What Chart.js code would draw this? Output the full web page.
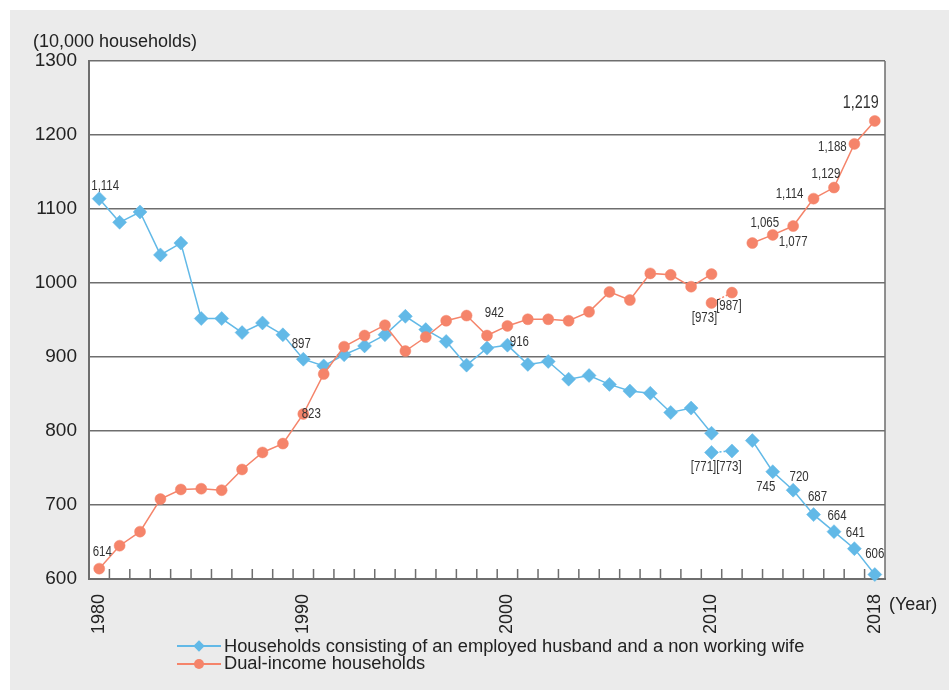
<!DOCTYPE html>
<html>
<head>
<meta charset="utf-8">
<script src="https://cdn.jsdelivr.net/npm/chart.js@4.4.1/dist/chart.umd.min.js"></script>
<style>
  body { margin: 0; width: 949px; height: 691px; position: relative; overflow: hidden; background: #fff;
         font-family: "Liberation Sans", Arial, sans-serif; color: #222; }
  #bg { position: absolute; left: 10px; top: 10px; width: 939px; height: 680px; background: #ebebeb; }
  #wrap { position: absolute; left: 0; top: 0; width: 949px; height: 691px; }
  .unit { position: absolute; left: 33px; top: 31px; font-size: 18px; }
  .year { position: absolute; left: 889px; top: 594px; font-size: 18px; }
  #legend { position: absolute; left: 177px; top: 637px; font-size: 18.3px; }
  .item { display: flex; align-items: center; height: 17.5px; }
  .key { position: relative; width: 44px; height: 11px; margin-right: 3px; }
  .key .ln { position: absolute; left: 0; right: 0; top: 5px; height: 2px; }
  .key .mk { position: absolute; }
  .dia { left: 18px; top: 1.5px; width: 8px; height: 8px; transform: rotate(45deg); }
  .dot { left: 17px; top: 1px; width: 10px; height: 10px; border-radius: 50%; }
</style>
</head>
<body>
<div id="bg"></div>
<div id="wrap"><canvas id="households-chart"></canvas></div>
<div class="unit">(10,000 households)</div>
<div class="year">(Year)</div>
<div id="legend">
  <div class="item"><div class="key"><div class="ln" style="background:#62b9e7"></div><div class="mk dia" style="background:#62b9e7"></div></div>Households consisting of an employed husband and a non working wife</div>
  <div class="item"><div class="key"><div class="ln" style="background:#f5846a"></div><div class="mk dot" style="background:#f5846a"></div></div>Dual-income households</div>
</div>
<script>
const colors = { blue: "#62b9e7", orange: "#f5846a", grid: "#6e6e6e", text: "#222" };

let years = [
  "1980", "1981", "1982", "1983", "1984", "1985", "1986", "1987", "1988", "1989",
  "1990", "1991", "1992", "1993", "1994", "1995", "1996", "1997", "1998", "1999",
  "2000", "2001", "2002", "2003", "2004", "2005", "2006", "2007", "2008", "2009",
  "2010", "2011", "2012", "2013", "2014", "2015", "2016", "2017", "2018",
];
let shownYears = ["1980", "1990", "2000", "2010", "2018"];

// 10,000 households; 2011 left out of the main series
let singleEarner = [
  1114, 1082, 1096, 1038, 1054, 952, 952, 933, 946, 930,
  897, 888, 903, 915, 930, 955, 937, 921, 889, 912,
  916, 890, 894, 870, 875, 863, 854, 851, 825, 831,
  797, null, 787, 745, 720, 687, 664, 641, 606,
];
let dualIncome = [
  614, 645, 664, 708, 721, 722, 720, 748, 771, 783,
  823, 877, 914, 929, 943, 908, 927, 949, 956, 929,
  942, 951, 951, 949, 961, 988, 977, 1013, 1011, 995,
  1012, null, 1054, 1065, 1077, 1114, 1129, 1188, 1219,
];
// bracketed values
let altYears = ["2010", "2011"];
let singleEarnerAlt = [771, 773];
let dualIncomeAlt = [973, 987];

// label placement (offset from the point)
let singleEarnerLabels = [
  { i: 0, dx: 6, dy: -12 }, { i: 10, dx: -2, dy: -15 }, { i: 20, dx: 12, dy: -3 },
  { i: 33, dx: -7, dy: 15 }, { i: 34, dx: 6, dy: -13 }, { i: 35, dx: 4, dy: -17 },
  { i: 36, dx: 3, dy: -15 }, { i: 37, dx: 1, dy: -16 }, { i: 38, dx: 0, dy: -20 },
];
let singleEarnerAltLabels = [{ i: 0, dx: -8, dy: 15 }, { i: 1, dx: -3, dy: 16 }];
let dualIncomeLabels = [
  { i: 0, dx: 3, dy: -16 }, { i: 10, dx: 8, dy: 0 }, { i: 20, dx: -13, dy: -13 },
  { i: 33, dx: -8, dy: -12 }, { i: 34, dx: 0, dy: 16 }, { i: 35, dx: -24, dy: -4 },
  { i: 36, dx: -8, dy: -13 }, { i: 37, dx: -22, dy: 3 }, { i: 38, dx: -14, dy: -18, size: 17.5 },
];
let dualIncomeAltLabels = [{ i: 0, dx: -7, dy: 15 }, { i: 1, dx: -3, dy: 14 }];

function pairs(xs, ys) {
  return xs.map((x, k) => ({ x: x, y: ys[k] }));
}

function lineSet(label, data, color, style, radius, order, labels, bracket, dashed) {
  return {
    label: label,
    data: data,
    borderColor: color,
    backgroundColor: color,
    borderWidth: 1.5,
    borderDash: dashed ? [2, 2] : [],
    pointStyle: style,
    pointRadius: radius,
    pointHoverRadius: radius,
    pointBorderWidth: 0.5,
    tension: 0,
    spanGaps: false,
    clip: false,
    order: order,
    valueLabels: labels,
    bracket: bracket,
  };
}

const valueLabelPlugin = {
  id: "valueLabels",
  afterDatasetsDraw(chart) {
    let ctx = chart.ctx;
    chart.data.datasets.forEach((ds, di) => {
      let meta = chart.getDatasetMeta(di);
      (ds.valueLabels || []).forEach((lb) => {
        let pt = meta.data[lb.i];
        let raw = ds.data[lb.i];
        let v = typeof raw === "object" && raw !== null ? raw.y : raw;
        let txt = v.toLocaleString("en-US");
        if (ds.bracket) txt = "[" + txt + "]";
        ctx.save();
        ctx.fillStyle = "#333";
        ctx.textAlign = "center";
        ctx.textBaseline = "middle";
        ctx.font = (lb.size || 14) + 'px "Liberation Sans", Arial, sans-serif';
        // condensed lettering, as in the original
        ctx.translate(pt.x + lb.dx, pt.y + lb.dy);
        ctx.scale(0.82, 1);
        ctx.fillText(txt, 0, 0);
        ctx.restore();
      });
    });
  },
};

const framePlugin = {
  id: "frame",
  beforeDraw(chart) {
    let a = chart.chartArea;
    let ctx = chart.ctx;
    ctx.save();
    ctx.fillStyle = "#fff";
    ctx.fillRect(a.left, a.top, a.right - a.left, a.bottom - a.top);
    ctx.restore();
  },
  beforeDatasetsDraw(chart) {
    let a = chart.chartArea;
    let ctx = chart.ctx;
    let xs = chart.scales.x;
    ctx.save();
    ctx.strokeStyle = colors.grid;
    ctx.lineWidth = 1.5;
    ctx.beginPath();
    ctx.moveTo(a.right, a.top);
    ctx.lineTo(a.right, a.bottom);
    // small ticks between the years
    for (let k = 1; k < years.length; k++) {
      let x = (xs.getPixelForValue(k - 1) + xs.getPixelForValue(k)) / 2;
      ctx.moveTo(x, a.bottom);
      ctx.lineTo(x, a.bottom - 10);
    }
    ctx.stroke();
    ctx.restore();
  },
};

let householdsChart = new Chart("households-chart", {
  type: "line",
  data: {
    labels: years,
    datasets: [
      lineSet("Households consisting of an employed husband and a non working wife",
        singleEarner, colors.blue, "rectRot", 7, 2, singleEarnerLabels, false, false),
      lineSet("Dual-income households",
        dualIncome, colors.orange, "circle", 5.5, 1, dualIncomeLabels, false, false),
      lineSet("", pairs(altYears, singleEarnerAlt), colors.blue, "rectRot", 7, 2,
        singleEarnerAltLabels, true, true),
      lineSet("", pairs(altYears, dualIncomeAlt), colors.orange, "circle", 5.5, 1,
        dualIncomeAltLabels, true, true),
    ],
  },
  options: {
    responsive: true,
    maintainAspectRatio: false,
    animation: false,
    layout: { padding: { left: 0, top: 61, right: 64, bottom: 0 } },
    plugins: {
      legend: { display: false },
      tooltip: { enabled: false },
    },
    scales: {
      x: {
        type: "category",
        offset: true,
        grid: { display: false, offset: true },
        border: { display: true, color: colors.grid, width: 2 },
        ticks: {
          autoSkip: false,
          maxRotation: 90,
          minRotation: 90,
          padding: 7,
          color: colors.text,
          font: { family: '"Liberation Sans", Arial, sans-serif', size: 18 },
          callback: function (value) {
            let lbl = this.getLabelForValue(value);
            return shownYears.includes(lbl) ? lbl : "";
          },
        },
        afterFit: (scale) => { scale.height = 112; },
      },
      y: {
        min: 600,
        max: 1300,
        grid: { color: colors.grid, lineWidth: 1.5, drawTicks: false },
        border: { display: true, color: colors.grid, width: 2 },
        ticks: {
          stepSize: 100,
          padding: 12,
          color: colors.text,
          font: { family: '"Liberation Sans", Arial, sans-serif', size: 19 },
          callback: (value) => String(value),
        },
        afterFit: (scale) => { scale.width = 89; },
      },
    },
  },
  plugins: [framePlugin, valueLabelPlugin],
});
</script>
</body>
</html>
